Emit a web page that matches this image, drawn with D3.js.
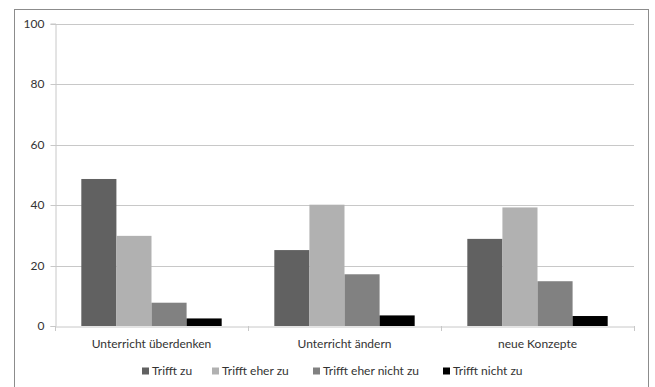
<!DOCTYPE html>
<html><head><meta charset="utf-8">
<script src="https://cdn.jsdelivr.net/npm/d3@7"></script>
<style>
html,body{margin:0;padding:0;background:#fff;}
svg{display:block;font-family:Lato,"Open Sans",sans-serif;}
</style></head>
<body>
<svg id="chart" width="655" height="387"></svg>
<script>
const categories = ["Unterricht überdenken", "Unterricht ändern", "neue Konzepte"];
const seriesNames = ["Trifft zu", "Trifft eher zu", "Trifft eher nicht zu", "Trifft nicht zu"];
const trifftZu = [48.6, 25.1, 28.8];
const trifftEherZu = [29.8, 40.1, 39.2];
const trifftEherNichtZu = [7.7, 17.1, 14.8];
const trifftNichtZu = [2.5, 3.5, 3.3];
const yTicks = [0, 20, 40, 60, 80, 100];
const colors = ["#616161", "#b1b1b1", "#818181", "#000000"];

(function () {
const seriesValues = [trifftZu, trifftEherZu, trifftEherNichtZu, trifftNichtZu];
const svg = d3.select("#chart");

// outer frame
svg.append("rect").attr("x", 14.5).attr("y", 9.5).attr("width", 634).attr("height", 400)
  .attr("fill", "none").attr("stroke", "#8c8c8c").attr("stroke-width", 1);

const pLeft = 55, pRight = 634, pTop = 23.5, pBottom = 326;
const x0 = d3.scaleBand().domain(categories).range([pLeft, pRight]).paddingInner(0).paddingOuter(0);
const y = d3.scaleLinear().domain([0, 100]).range([pBottom, pTop]);

// gridlines
svg.append("g").selectAll("line").data(yTicks.filter(t => t > 0)).join("line")
  .attr("x1", pLeft).attr("x2", pRight)
  .attr("y1", d => Math.round(y(d)) + 0.5).attr("y2", d => Math.round(y(d)) + 0.5)
  .attr("stroke", "#c8c8c8").attr("stroke-width", 1);

// y axis
const yAxis = d3.axisLeft(y).tickValues(yTicks).tickSize(5).tickPadding(6);
const gy = svg.append("g").attr("transform", `translate(${pLeft + 0.5},0)`).call(yAxis);
gy.select(".domain").attr("stroke", "#c8c8c8");
gy.selectAll(".tick line").attr("stroke", "#c8c8c8");
gy.selectAll(".tick").attr("transform", d => `translate(0,${Math.round(y(d)) + 0.5})`);
gy.selectAll("text").attr("font-size", 12).attr("fill", "#333").attr("font-family", "Lato,sans-serif");

// bars
const bw = x0.bandwidth();
const barW = bw / (4 + 1.5);
const x1 = d3.scaleBand().domain(d3.range(4)).range([0, barW * 4]);
const groups = svg.append("g").selectAll("g").data(categories).join("g")
  .attr("transform", c => `translate(${x0(c) + barW * 0.75},0)`);
groups.selectAll("rect").data((c, ci) => seriesValues.map((s, si) => ({si, v: s[ci]}))).join("rect")
  .attr("x", d => x1(d.si)).attr("width", x1.bandwidth())
  .attr("y", d => y(d.v)).attr("height", d => pBottom - y(d.v))
  .attr("fill", d => colors[d.si]);

// x axis
const xAxis = d3.axisBottom(x0).tickSize(0).tickPadding(13);
const gx = svg.append("g").attr("transform", `translate(0,${pBottom + 0.5})`).call(xAxis);
gx.select(".domain").attr("stroke", "#c8c8c8");
gx.selectAll("text").attr("font-size", 12).attr("fill", "#333").attr("font-family", "Lato,sans-serif");
// category boundary ticks
svg.append("g").selectAll("line").data(categories.map(c => x0(c)).concat([pRight])).join("line")
  .attr("x1", d => Math.round(d) + 0.5).attr("x2", d => Math.round(d) + 0.5)
  .attr("y1", pBottom).attr("y2", pBottom + 5).attr("stroke", "#c8c8c8");

// legend
const legendX = [142, 212, 313, 443];
const lg = svg.append("g").selectAll("g").data(seriesNames).join("g")
  .attr("transform", (d, i) => `translate(${legendX[i]},371)`);
lg.append("rect").attr("x", 0).attr("y", -3.5).attr("width", 7).attr("height", 7)
  .attr("fill", (d, i) => colors[i]);
lg.append("text").attr("x", 10).attr("y", 0).attr("dy", "0.35em")
  .attr("font-size", 12).attr("fill", "#333").text(d => d);
})();
</script>
</body></html>
